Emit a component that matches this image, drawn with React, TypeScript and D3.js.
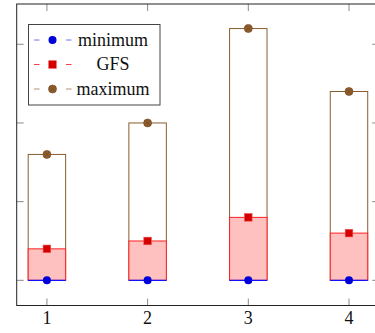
import { useEffect, useRef } from "react"
import * as d3 from "d3"

const categories = [1, 2, 3, 4]
const minimumValues = [0, 0, 0, 0]
const gfsValues = [0.4, 0.5, 0.8, 0.6]
const maximumValues = [1.6, 2.0, 3.2, 2.4]
const yTicks = [0, 1, 2, 3]
const legendLabels = ["minimum", "GFS", "maximum"]

const BROWN = "#8a5c30"
const FONT = "'Liberation Serif', 'Times New Roman', serif"

export default function App() {
  const svgRef = useRef<SVGSVGElement>(null)

  useEffect(() => {
    if (!svgRef.current) return
    const svg = d3.select(svgRef.current)
    svg.selectAll("*").remove()

    const left = 16.7
    const right = 379.2
    const top = 4
    const bottom = 305.5

    const x = d3.scaleLinear().domain([0.7, 4.3]).range([left, right])
    const y = d3.scaleLinear().domain([-0.32, 3.512]).range([bottom, top])
    const half = 0.186

    const data = categories.map((c, i) => ({
      c,
      min: minimumValues[i],
      gfs: gfsValues[i],
      max: maximumValues[i],
    }))

    const g = svg.append("g")

    // maximum boxes
    g.selectAll(".max-box")
      .data(data)
      .enter()
      .append("rect")
      .attr("x", (d) => x(d.c - half))
      .attr("width", (d) => x(d.c + half) - x(d.c - half))
      .attr("y", (d) => y(d.max))
      .attr("height", (d) => y(d.min) - y(d.max))
      .attr("fill", "none")
      .attr("stroke", BROWN)
      .attr("stroke-width", 1)

    // GFS boxes
    g.selectAll(".gfs-box")
      .data(data)
      .enter()
      .append("rect")
      .attr("x", (d) => x(d.c - half))
      .attr("width", (d) => x(d.c + half) - x(d.c - half))
      .attr("y", (d) => y(d.gfs))
      .attr("height", (d) => y(d.min) - y(d.gfs))
      .attr("fill", "#ffc0c0")
      .attr("stroke", "#ff2020")
      .attr("stroke-width", 1)

    // minimum lines
    g.selectAll(".min-line")
      .data(data)
      .enter()
      .append("line")
      .attr("x1", (d) => x(d.c - half))
      .attr("x2", (d) => x(d.c + half))
      .attr("y1", (d) => y(d.min))
      .attr("y2", (d) => y(d.min))
      .attr("stroke", "#1010ff")
      .attr("stroke-width", 1.2)

    // axis ticks (inward, mirrored)
    const tickColor = "#8a8a8a"
    categories.forEach((c) => {
      g.append("line").attr("x1", x(c)).attr("x2", x(c)).attr("y1", bottom).attr("y2", bottom - 7)
        .attr("stroke", tickColor).attr("stroke-width", 1)
      g.append("line").attr("x1", x(c)).attr("x2", x(c)).attr("y1", top).attr("y2", top + 7)
        .attr("stroke", tickColor).attr("stroke-width", 1)
      g.append("text")
        .attr("x", x(c))
        .attr("y", 323.5)
        .attr("text-anchor", "middle")
        .style("font-family", FONT)
        .style("font-size", "18px")
        .style("fill", "#111")
        .text(c)
    })
    yTicks.forEach((t) => {
      g.append("line").attr("x1", left).attr("x2", left + 7).attr("y1", y(t)).attr("y2", y(t))
        .attr("stroke", tickColor).attr("stroke-width", 1)
      g.append("line").attr("x1", right).attr("x2", right - 7).attr("y1", y(t)).attr("y2", y(t))
        .attr("stroke", tickColor).attr("stroke-width", 1)
    })

    // markers
    g.selectAll(".min-dot")
      .data(data)
      .enter()
      .append("circle")
      .attr("cx", (d) => x(d.c))
      .attr("cy", (d) => y(d.min))
      .attr("r", 4)
      .attr("fill", "#0000d8")

    g.selectAll(".gfs-sq")
      .data(data)
      .enter()
      .append("rect")
      .attr("x", (d) => x(d.c) - 3.8)
      .attr("y", (d) => y(d.gfs) - 3.8)
      .attr("width", 7.6)
      .attr("height", 7.6)
      .attr("fill", "#d40000")
      .attr("stroke", "#ee5050")
      .attr("stroke-width", 0.6)

    const maxDot = (sel: d3.Selection<SVGGElement, unknown, null, undefined>, cx: number, cy: number) => {
      sel.append("circle").attr("cx", cx).attr("cy", cy).attr("r", 4)
        .attr("fill", "#8f5d2c").attr("stroke", "#6e4520").attr("stroke-width", 0.6)
      sel.append("path")
        .attr("d", `M${cx - 2.5},${cy - 2.5}L${cx + 2.5},${cy + 2.5}M${cx - 2.5},${cy + 2.5}L${cx + 2.5},${cy - 2.5}`)
        .attr("stroke", "#6e4520").attr("stroke-width", 0.6)
    }
    data.forEach((d) => maxDot(g as any, x(d.c), y(d.max)))

    // axis frame
    g.append("rect")
      .attr("x", left)
      .attr("y", top)
      .attr("width", right - left)
      .attr("height", bottom - top)
      .attr("fill", "none")
      .attr("stroke", "#222")
      .attr("stroke-width", 1)

    // legend
    const legend = g.append("g").attr("transform", "translate(28.5, 24.5)")
    legend.append("rect")
      .attr("width", 131.5)
      .attr("height", 80.5)
      .attr("fill", "white")
      .attr("stroke", "#444")
      .attr("stroke-width", 1)

    const legendColors = ["#7070ff", "#ff4040", "#b09070"]
    legendLabels.forEach((label, i) => {
      const cy = 15.5 + i * 24.5
      const item = legend.append("g")
      item.append("line").attr("x1", 5.5).attr("x2", 11).attr("y1", cy).attr("y2", cy)
        .attr("stroke", legendColors[i]).attr("stroke-width", 1)
      item.append("line").attr("x1", 37.5).attr("x2", 43).attr("y1", cy).attr("y2", cy)
        .attr("stroke", legendColors[i]).attr("stroke-width", 1)
      if (i === 0) {
        item.append("circle").attr("cx", 24).attr("cy", cy).attr("r", 4).attr("fill", "#0000d8")
      } else if (i === 1) {
        item.append("rect").attr("x", 24 - 3.8).attr("y", cy - 3.8).attr("width", 7.6).attr("height", 7.6)
          .attr("fill", "#d40000").attr("stroke", "#ee5050").attr("stroke-width", 0.6)
      } else {
        maxDot(item as any, 24, cy)
      }
      item.append("text")
        .attr("x", 84.5)
        .attr("y", cy + 5.5)
        .attr("text-anchor", "middle")
        .style("font-family", FONT)
        .style("font-size", "18px")
        .style("fill", "#111")
        .text(label)
    })
  }, [])

  return (
    <svg
      ref={svgRef}
      width={375}
      height={333}
      style={{ position: "absolute", left: 0, top: 0, background: "white" }}
    ></svg>
  )
}
